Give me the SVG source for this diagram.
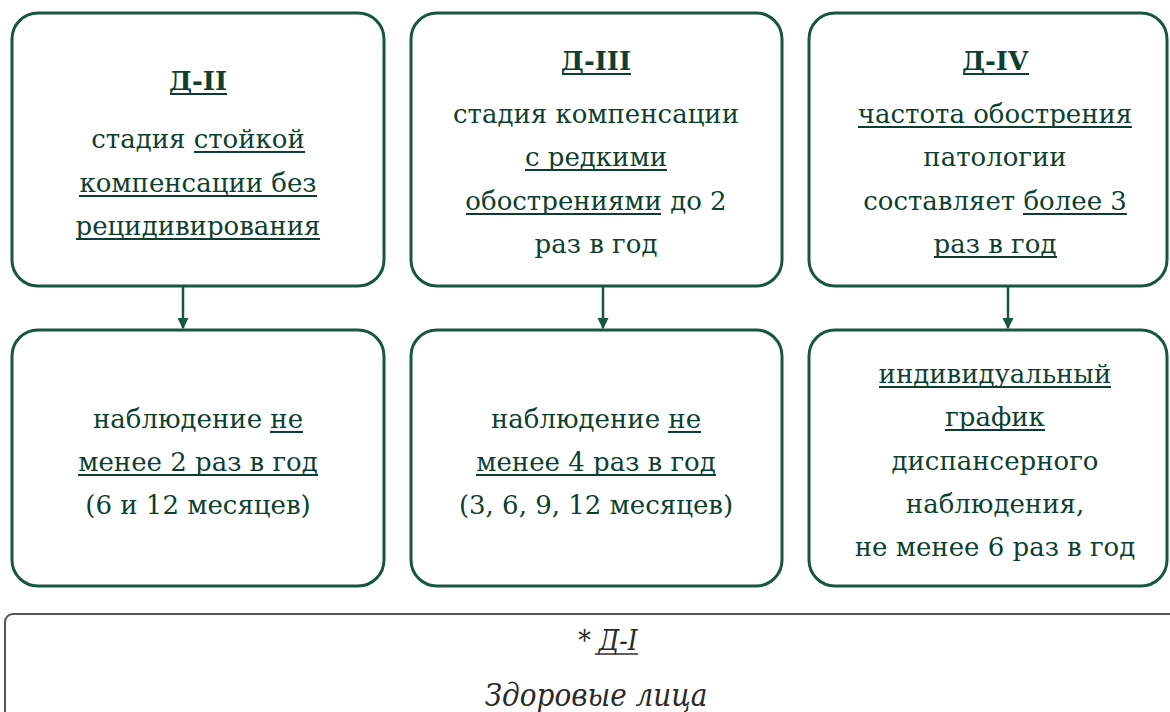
<svg xmlns="http://www.w3.org/2000/svg" width="1170" height="712" viewBox="0 0 1170 712">
<defs>
<style>
.box{fill:#fff;stroke:#17563f;stroke-width:3}
.gbox{fill:#fff;stroke:#555;stroke-width:2}
text{font-family:"DejaVu Serif",serif;font-size:26px;fill:#0c3f30;text-anchor:middle}
.t{font-weight:bold}
.ul{stroke:#0c3f30;stroke-width:1.8}
.ulg{stroke:#2a2a2a;stroke-width:1.6}
.i1{font-family:"DejaVu Serif Condensed","DejaVu Serif",serif;font-style:italic;fill:#2a2a2a;font-size:28px}
.i2{font-family:"DejaVu Serif Condensed","DejaVu Serif",serif;font-style:italic;fill:#2a2a2a;font-size:31px}
.conn{stroke:#17563f;stroke-width:2.5;fill:none}
</style>
<marker id="ah" viewBox="0 0 10 10" refX="9" refY="5" markerWidth="4.5" markerHeight="4.5" orient="auto"><path d="M0,0 L10,5 L0,10 z" fill="#17563f"/></marker>
</defs>
<rect width="1170" height="712" fill="#fff"/>
<g id="connectors">
<line class="conn" x1="183" y1="287" x2="183" y2="328" marker-end="url(#ah)"/>
<line class="conn" x1="603" y1="287" x2="603" y2="328" marker-end="url(#ah)"/>
<line class="conn" x1="1008" y1="287" x2="1008" y2="328" marker-end="url(#ah)"/>
</g>
<g id="d2">
<rect class="box" x="12" y="13" width="372" height="273" rx="26"/>
<text x="198" y="90" class="t">Д-II</text>
<text x="198" y="148">стадия стойкой</text>
<text x="198" y="192">компенсации без</text>
<text x="198" y="235">рецидивирования</text>
<line class="ul" x1="170" y1="94" x2="227" y2="94"/>
<line class="ul" x1="194" y1="152" x2="305" y2="152"/>
<line class="ul" x1="79" y1="196" x2="317" y2="196"/>
<line class="ul" x1="76" y1="239" x2="320" y2="239"/>
</g>
<g id="d3">
<rect class="box" x="411" y="13" width="371" height="273" rx="26"/>
<text x="596" y="70" class="t">Д-III</text>
<text x="596" y="123">стадия компенсации</text>
<text x="596" y="166">с редкими</text>
<text x="596" y="210">обострениями до 2</text>
<text x="596" y="253">раз в год</text>
<line class="ul" x1="562" y1="74" x2="631" y2="74"/>
<line class="ul" x1="525" y1="170" x2="667" y2="170"/>
<line class="ul" x1="466" y1="214" x2="661" y2="214"/>
</g>
<g id="d4">
<rect class="box" x="809" y="13" width="358" height="273" rx="26"/>
<text x="995" y="70" class="t">Д-IV</text>
<text x="995" y="123">частота обострения</text>
<text x="995" y="166">патологии</text>
<text x="995" y="210">составляет более 3</text>
<text x="995" y="253">раз в год</text>
<line class="ul" x1="963" y1="74" x2="1029" y2="74"/>
<line class="ul" x1="858" y1="127" x2="1132" y2="127"/>
<line class="ul" x1="1023" y1="214" x2="1127" y2="214"/>
<line class="ul" x1="934" y1="257" x2="1057" y2="257"/>
</g>
<g id="n2">
<rect class="box" x="12" y="330" width="372" height="256" rx="26"/>
<text x="198" y="428">наблюдение не</text>
<text x="198" y="471">менее 2 раз в год</text>
<text x="198" y="514">(6 и 12 месяцев)</text>
<line class="ul" x1="270" y1="432" x2="303" y2="432"/>
<line class="ul" x1="78" y1="475" x2="318" y2="475"/>
</g>
<g id="n3">
<rect class="box" x="411" y="330" width="371" height="256" rx="26"/>
<text x="596" y="428">наблюдение не</text>
<text x="596" y="471">менее 4 раз в год</text>
<text x="596" y="514">(3, 6, 9, 12 месяцев)</text>
<line class="ul" x1="668" y1="432" x2="701" y2="432"/>
<line class="ul" x1="476" y1="475" x2="716" y2="475"/>
</g>
<g id="n4">
<rect class="box" x="809" y="330" width="358" height="256" rx="26"/>
<text x="995" y="383">индивидуальный</text>
<text x="995" y="426">график</text>
<text x="995" y="470">диспансерного</text>
<text x="995" y="513">наблюдения,</text>
<text x="995" y="556">не менее 6 раз в год</text>
<line class="ul" x1="879" y1="387" x2="1111" y2="387"/>
<line class="ul" x1="945" y1="430" x2="1045" y2="430"/>
</g>
<g id="d1">
<rect class="gbox" x="5" y="614" width="1180" height="120" rx="8"/>
<text x="608" y="650" class="i1">* Д-I</text>
<text x="596" y="706" class="i2">Здоровые лица</text>
<line class="ulg" x1="595" y1="654" x2="638" y2="654"/>
</g>
</svg>
